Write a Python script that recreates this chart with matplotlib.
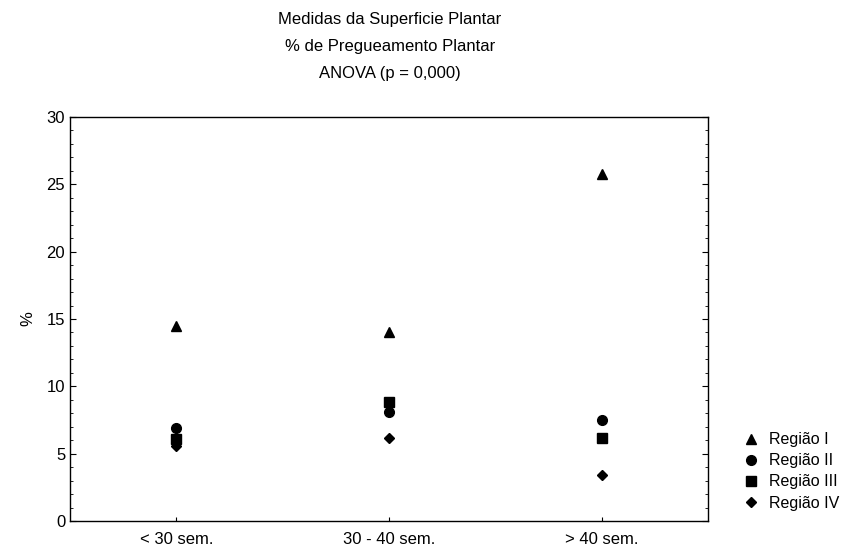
import matplotlib.pyplot as plt
from matplotlib.ticker import MultipleLocator

plt.rcParams['font.family'] = ['Liberation Sans', 'DejaVu Sans']

# dados
grupos = ['< 30 sem.', '30 - 40 sem.', '> 40 sem.']
regiao_1 = [14.5, 14.0, 25.8]
regiao_2 = [6.9, 8.1, 7.5]
regiao_3 = [6.1, 8.8, 6.2]
regiao_4 = [5.6, 6.2, 3.4]

series = [
    ('Região I', regiao_1, '^', 7),
    ('Região II', regiao_2, 'o', 7),
    ('Região III', regiao_3, 's', 6.5),
    ('Região IV', regiao_4, 'D', 5),
]

fig = plt.figure(figsize=(8.6, 5.46), dpi=100)
ax = fig.add_axes([0.0814, 0.0458, 0.7419, 0.7399])

x = list(range(len(grupos)))
for nome, vals, mk, ms in series:
    ax.plot(x, vals, linestyle='none', marker=mk, markersize=ms,
            color='black', label=nome)

ax.set_xlim(-0.5, 2.5)
ax.set_ylim(0, 30)
ax.set_xticks(x)
ax.set_xticklabels(grupos, fontsize=12)
ax.yaxis.set_major_locator(MultipleLocator(5))
ax.yaxis.set_minor_locator(MultipleLocator(1))
ax.tick_params(axis='y', which='major', direction='in', length=4, right=True, labelsize=12)
ax.tick_params(axis='y', which='minor', direction='in', length=2, right=True)
ax.tick_params(axis='x', direction='in', length=3, labelsize=12, pad=8)
for s in ax.spines.values():
    s.set_linewidth(1.0)
ax.set_ylabel('%', fontsize=12, labelpad=8)

fig.text(0.4535, 0.965, 'Medidas da Superficie Plantar', ha='center', va='center', fontsize=12)
fig.text(0.4535, 0.915, '% de Pregueamento Plantar', ha='center', va='center', fontsize=12)
fig.text(0.4535, 0.866, 'ANOVA (p = 0,000)', ha='center', va='center', fontsize=12)

ax.legend(loc='upper left', bbox_to_anchor=(1.03, 0.255), frameon=False,
          fontsize=11.5, handletextpad=0.5, labelspacing=0.38, handlelength=1.2)

fig.savefig('out.png', dpi=100)
